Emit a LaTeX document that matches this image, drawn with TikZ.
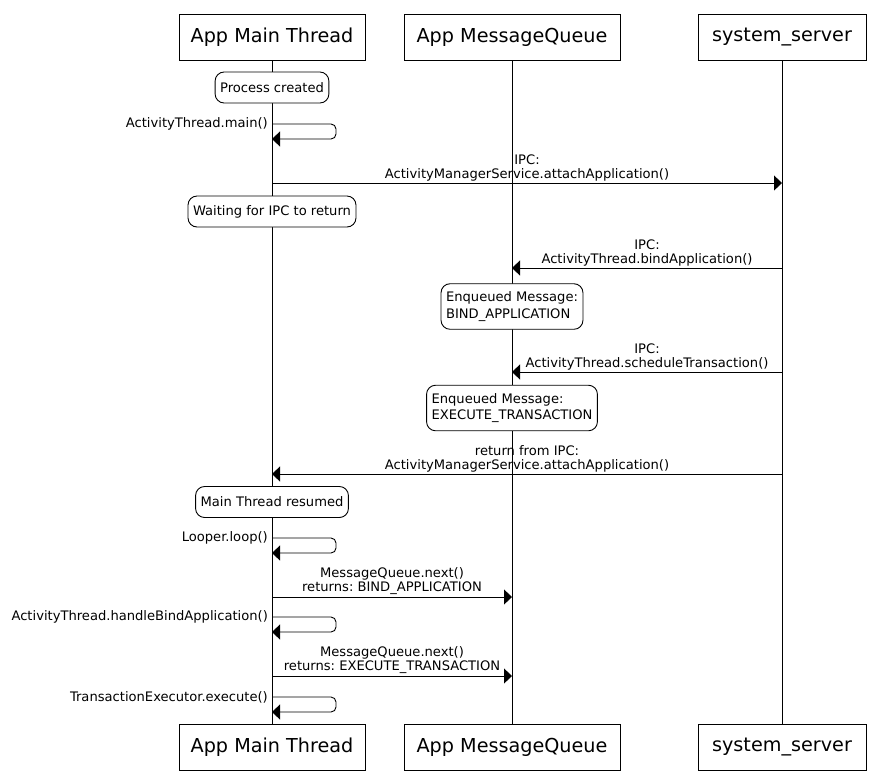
\documentclass[tikz,border=0pt]{standalone}
\usepackage{fontspec}
\setmainfont{DejaVu Sans}
\usetikzlibrary{arrows.meta}
\frenchspacing

\tikzset{
  actor/.style={draw, line width=0.9pt, minimum width=#1, minimum height=46pt,
    inner sep=0pt, font=\fontsize{19.2}{22}\selectfont},
  note/.style={draw, rounded corners=9pt, line width=0.9pt, fill=white,
    inner xsep=5pt, inner ysep=8pt, minimum height=31pt, align=left,
    font=\fontsize{13.1}{16.5}\selectfont},
  msg/.style={line width=0.9pt, -{Triangle[length=8pt,width=15pt]}},
  selfmsg/.style={msg, rounded corners=5pt},
  msglabel/.style={anchor=south, align=center, inner sep=1.5pt,
    font=\fontsize{13.1}{14.2}\selectfont},
  selflabel/.style={anchor=east, inner sep=2pt, xshift=-2pt,
    font=\fontsize{13.1}{14.2}\selectfont},
  lifeline/.style={line width=0.9pt}
}

\begin{document}
\begin{tikzpicture}[x=1pt, y=-1pt]
  \useasboundingbox (0,0) rectangle (880,780);

  % Participants, top and bottom
  \node[actor=186pt] (mainTop) at (272,37) {App Main Thread};
  \node[actor=216pt] (queueTop) at (512,37) {App MessageQueue};
  \node[actor=168pt] (serverTop) at (782,37) {system\_server};
  \node[actor=186pt] (mainBot) at (272,747) {App Main Thread};
  \node[actor=216pt] (queueBot) at (512,747) {App MessageQueue};
  \node[actor=168pt] (serverBot) at (782,747) {system\_server};

  % Lifelines
  \draw[lifeline] (mainTop) -- (mainBot);
  \draw[lifeline] (queueTop) -- (queueBot);
  \draw[lifeline] (serverTop) -- (serverBot);

  % Notes on the lifelines
  \node[note] (created) at (272,87.5) {Process created};
  \node[note] (waiting) at (272,211.5) {Waiting for IPC to return};
  \node[note] (bindQ) at (512,306.5) {Enqueued Message:\\BIND\_APPLICATION};
  \node[note] (execQ) at (512,408) {Enqueued Message:\\EXECUTE\_TRANSACTION};
  \node[note] (resumed) at (272,502) {Main Thread resumed};

  % Message end points
  \coordinate (mainA) at (272,124);  \coordinate (mainB) at (272,139);
  \coordinate (attachM) at (272,183); \coordinate (attachS) at (782,183);
  \coordinate (bindS) at (782,268);   \coordinate (bindQ) at (512,268);
  \coordinate (schedS) at (782,372);  \coordinate (schedQ) at (512,372);
  \coordinate (retS) at (782,474);    \coordinate (retM) at (272,474);
  \coordinate (loopA) at (272,538);  \coordinate (loopB) at (272,553);
  \coordinate (next1M) at (272,597);  \coordinate (next1Q) at (512,597);
  \coordinate (handleA) at (272,617); \coordinate (handleB) at (272,632);
  \coordinate (next2M) at (272,676);  \coordinate (next2Q) at (512,676);
  \coordinate (execA) at (272,697);  \coordinate (execB) at (272,712);

  % Drawing messages
  \draw[selfmsg] (mainA) -- ++(64,0) -- ++(0,15) -- (mainB);
  \node[selflabel] at (mainA) {ActivityThread.main()};

  \draw[msg] (attachM) -- node[msglabel] {IPC:\\ActivityManagerService.attachApplication()} (attachS);
  \draw[msg] (bindS) -- node[msglabel] {IPC:\\ActivityThread.bindApplication()} (bindQ);
  \draw[msg] (schedS) -- node[msglabel] {IPC:\\ActivityThread.scheduleTransaction()} (schedQ);
  \draw[msg] (retS) -- node[msglabel] {return from IPC:\\ActivityManagerService.attachApplication()} (retM);

  \draw[selfmsg] (loopA) -- ++(64,0) -- ++(0,15) -- (loopB);
  \node[selflabel] at (loopA) {Looper.loop()};

  \draw[msg] (next1M) -- node[msglabel] {MessageQueue.next()\\returns: BIND\_APPLICATION} (next1Q);

  \draw[selfmsg] (handleA) -- ++(64,0) -- ++(0,15) -- (handleB);
  \node[selflabel] at (handleA) {ActivityThread.handleBindApplication()};

  \draw[msg] (next2M) -- node[msglabel] {MessageQueue.next()\\returns: EXECUTE\_TRANSACTION} (next2Q);

  \draw[selfmsg] (execA) -- ++(64,0) -- ++(0,15) -- (execB);
  \node[selflabel] at (execA) {TransactionExecutor.execute()};
\end{tikzpicture}
\end{document}
